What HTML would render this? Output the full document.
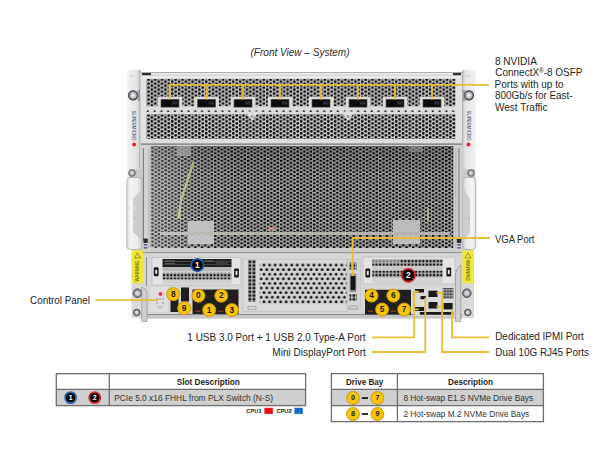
<!DOCTYPE html>
<html><head><meta charset="utf-8"><style>
html,body{margin:0;padding:0;background:#fff;width:600px;height:450px;overflow:hidden}
svg{display:block}
text{font-family:"Liberation Sans",sans-serif}
</style></head><body>
<svg width="600" height="450" viewBox="0 0 600 450">
<defs>
  <pattern id="meshT" patternUnits="userSpaceOnUse" x="146.8" y="78.5" width="6.786" height="3.97">
    <rect width="6.786" height="3.97" fill="#d6d6d6"/>
    <circle cx="1.7" cy="1.3" r="1.42" fill="#0a0a0a"/>
    <circle cx="5.093" cy="3.27" r="1.42" fill="#0a0a0a"/>
    <circle cx="5.093" cy="-0.7" r="1.42" fill="#0a0a0a"/>
  </pattern>
  <pattern id="sepRow" patternUnits="userSpaceOnUse" x="146.1" y="108" width="6.786" height="5">
    <ellipse cx="1.7" cy="3.2" rx="1.15" ry="0.85" fill="#2a2a2a"/>
  </pattern>
  <pattern id="meshM" patternUnits="userSpaceOnUse" x="150.85" y="146.8" width="6.6" height="3.75">
    <path d="M0 0H6.6V3.75H0Z M0.230 0.938a1.42 1.42 0 1 0 2.840 0a1.42 1.42 0 1 0 -2.840 0z M3.530 2.812a1.42 1.42 0 1 0 2.840 0a1.42 1.42 0 1 0 -2.840 0z" fill="#b8b8b8" fill-rule="evenodd"/>
  </pattern>
  <pattern id="meshB" patternUnits="userSpaceOnUse" x="261.2" y="262.7" width="5.55" height="9.2">
    <rect width="5.55" height="9.2" fill="#d2d2d2"/>
    <circle cx="2.8" cy="2.3" r="1.45" fill="#151515"/>
    <circle cx="0" cy="6.9" r="1.45" fill="#151515"/>
    <circle cx="5.55" cy="6.9" r="1.45" fill="#151515"/>
  </pattern>
  <pattern id="grid" patternUnits="userSpaceOnUse" x="0" y="0" width="2.9" height="2.9">
    <rect width="2.9" height="2.9" fill="#bcbcbc"/>
    <rect x="0.4" y="0.4" width="1.9" height="1.9" fill="#1e1e1e"/>
  </pattern>
  <pattern id="grid2" patternUnits="userSpaceOnUse" x="248" y="260" width="4" height="3.75">
    <rect width="4" height="3.75" fill="#c4c4c4"/>
    <rect x="0.5" y="0.5" width="2.8" height="2.6" fill="#1a1a1a"/>
  </pattern>
  <pattern id="pcie" patternUnits="userSpaceOnUse" x="0.3" y="0.4" width="3.6" height="3.5">
    <rect width="3.6" height="3.5" fill="#bababa"/>
    <rect x="0.65" y="0.6" width="2.3" height="2.3" fill="#151515"/>
  </pattern>
  <linearGradient id="earL" x1="0" x2="1" y1="0" y2="0">
    <stop offset="0" stop-color="#f2f2f2"/><stop offset="0.7" stop-color="#e4e4e4"/><stop offset="1" stop-color="#c9c9c9"/>
  </linearGradient>
  <linearGradient id="earR" x1="0" x2="1" y1="0" y2="0">
    <stop offset="0" stop-color="#cfcfcf"/><stop offset="0.3" stop-color="#e6e6e6"/><stop offset="1" stop-color="#f0f0f0"/>
  </linearGradient>
  <linearGradient id="meshShadeT" x1="0" x2="0" y1="0" y2="1">
    <stop offset="0" stop-color="#000" stop-opacity="0.22"/><stop offset="0.3" stop-color="#000" stop-opacity="0.05"/><stop offset="1" stop-color="#000" stop-opacity="0"/>
  </linearGradient>
  <linearGradient id="meshShadeL" x1="0" x2="1" y1="0" y2="0">
    <stop offset="0" stop-color="#fff" stop-opacity="0.25"/><stop offset="0.15" stop-color="#fff" stop-opacity="0.08"/><stop offset="0.3" stop-color="#fff" stop-opacity="0"/>
  </linearGradient>
  <linearGradient id="hdlL" x1="0" x2="1" y1="0" y2="0">
    <stop offset="0" stop-color="#dcdcdc"/><stop offset="0.25" stop-color="#f4f4f4"/><stop offset="0.7" stop-color="#ececec"/><stop offset="1" stop-color="#cfcfcf"/>
  </linearGradient>
  <linearGradient id="hdlR" x1="0" x2="1" y1="0" y2="0">
    <stop offset="0" stop-color="#cfcfcf"/><stop offset="0.3" stop-color="#ececec"/><stop offset="0.75" stop-color="#f4f4f4"/><stop offset="1" stop-color="#dcdcdc"/>
  </linearGradient>
  <radialGradient id="screw" cx="0.5" cy="0.5" r="0.5">
    <stop offset="0" stop-color="#e9e9e9"/><stop offset="0.55" stop-color="#b9b9c2"/><stop offset="0.8" stop-color="#7d7f88"/><stop offset="1" stop-color="#a9a9a9"/>
  </radialGradient>
</defs>

<text x="250.5" y="56.3" font-size="10.0" font-weight="normal" font-style="italic" fill="#2a2a2a" text-anchor="start" textLength="98.99" lengthAdjust="spacingAndGlyphs">(Front View – System)</text>
<rect x="127.3" y="70" width="13" height="110" fill="url(#earL)"/>
<rect x="131.5" y="249" width="13" height="69" fill="#d9d9d9"/>
<rect x="462.5" y="70" width="13" height="110" fill="url(#earR)"/>
<rect x="461" y="249" width="13" height="69" fill="#d9d9d9"/>
<rect x="139.6" y="70" width="0.8" height="108" fill="#9a9a9a"/>
<rect x="462.3" y="70" width="0.8" height="108" fill="#9a9a9a"/>
<circle cx="133.1" cy="95.3" r="5.1" fill="url(#screw)"/>
<circle cx="133.1" cy="95.3" r="4.5" fill="none" stroke="#4c4d55" stroke-width="1.3"/>
<circle cx="133.1" cy="95.3" r="1.3" fill="#f4f4f4"/>
<circle cx="468.9" cy="95.3" r="5.1" fill="url(#screw)"/>
<circle cx="468.9" cy="95.3" r="4.5" fill="none" stroke="#4c4d55" stroke-width="1.3"/>
<circle cx="468.9" cy="95.3" r="1.3" fill="#f4f4f4"/>
<rect x="137.6" y="90" width="2.4" height="11" fill="#7a7a7a" opacity="0.6"/>
<rect x="463" y="90" width="2.4" height="11" fill="#7a7a7a" opacity="0.6"/>
<path d="M130.3 77 L131.5 75 L132.7 77" fill="none" stroke="#aaa" stroke-width="0.6"/>
<path d="M467.3 77 L468.5 75 L469.7 77" fill="none" stroke="#aaa" stroke-width="0.6"/>
<text x="0" y="0" font-size="5.6" fill="#3d4275" font-family="Liberation Serif" textLength="30" lengthAdjust="spacingAndGlyphs" transform="translate(132.1 110.5) rotate(90)">SUPERMICRO</text>
<circle cx="134.1" cy="144.5" r="1.9" fill="#e0222a"/>
<text x="0" y="0" font-size="5.6" fill="#3d4275" font-family="Liberation Serif" textLength="30" lengthAdjust="spacingAndGlyphs" transform="translate(466.5 110.5) rotate(90)">SUPERMICRO</text>
<circle cx="468.5" cy="144.5" r="1.9" fill="#e0222a"/>
<rect x="141" y="73" width="321" height="70" fill="#e2e2e2"/>
<rect x="141" y="72.2" width="321" height="0.9" fill="#9a9a9a"/>
<rect x="142" y="73.1" width="318" height="5.2" fill="#ebebeb"/>
<rect x="142" y="74.8" width="318" height="0.7" fill="#c4c4c4"/>
<rect x="142" y="73" width="9" height="2.2" fill="#333"/>
<rect x="453" y="73" width="8" height="2.2" fill="#333"/>
<rect x="146.3" y="78.9" width="309.5" height="27.6" fill="url(#meshT)"/>
<rect x="146.3" y="106.5" width="309.5" height="7.8" fill="#dcdcdc"/>
<rect x="146.3" y="108" width="309.5" height="5" fill="url(#sepRow)"/>
<rect x="146.3" y="114.3" width="309.5" height="24.5" fill="url(#meshT)"/>
<rect x="141" y="139" width="321" height="4.6" fill="#dedede"/>
<rect x="141" y="143.5" width="321" height="1.2" fill="#5e5e5e"/>
<path d="M245 111.5 L259 111.5 L252 121 Z" fill="#dedede"/>
<circle cx="252" cy="116.5" r="1.6" fill="#999"/>
<path d="M341 111.5 L355 111.5 L348 121 Z" fill="#dedede"/>
<circle cx="348" cy="116.5" r="1.6" fill="#999"/>
<rect x="157.7" y="96.8" width="24.6" height="11.4" rx="1" fill="#dadada"/>
<rect x="160.7" y="99.1" width="18.6" height="8.4" fill="#4a4a4a"/>
<rect x="161.4" y="99.8" width="17.2" height="7.0" fill="#0c0c0c"/>
<rect x="172" y="101.5" width="5.5" height="3" fill="#2e2e2e"/>
<rect x="194.2" y="96.8" width="24.6" height="11.4" rx="1" fill="#dadada"/>
<rect x="197.2" y="99.1" width="18.6" height="8.4" fill="#4a4a4a"/>
<rect x="197.9" y="99.8" width="17.2" height="7.0" fill="#0c0c0c"/>
<rect x="208.5" y="101.5" width="5.5" height="3" fill="#2e2e2e"/>
<rect x="230.7" y="96.8" width="24.6" height="11.4" rx="1" fill="#dadada"/>
<rect x="233.7" y="99.1" width="18.6" height="8.4" fill="#4a4a4a"/>
<rect x="234.4" y="99.8" width="17.2" height="7.0" fill="#0c0c0c"/>
<rect x="245" y="101.5" width="5.5" height="3" fill="#2e2e2e"/>
<rect x="267.7" y="96.8" width="24.6" height="11.4" rx="1" fill="#dadada"/>
<rect x="270.7" y="99.1" width="18.6" height="8.4" fill="#4a4a4a"/>
<rect x="271.4" y="99.8" width="17.2" height="7.0" fill="#0c0c0c"/>
<rect x="282" y="101.5" width="5.5" height="3" fill="#2e2e2e"/>
<rect x="308.7" y="96.8" width="24.6" height="11.4" rx="1" fill="#dadada"/>
<rect x="311.7" y="99.1" width="18.6" height="8.4" fill="#4a4a4a"/>
<rect x="312.4" y="99.8" width="17.2" height="7.0" fill="#0c0c0c"/>
<rect x="323" y="101.5" width="5.5" height="3" fill="#2e2e2e"/>
<rect x="345.7" y="96.8" width="24.6" height="11.4" rx="1" fill="#dadada"/>
<rect x="348.7" y="99.1" width="18.6" height="8.4" fill="#4a4a4a"/>
<rect x="349.4" y="99.8" width="17.2" height="7.0" fill="#0c0c0c"/>
<rect x="360" y="101.5" width="5.5" height="3" fill="#2e2e2e"/>
<rect x="382.7" y="96.8" width="24.6" height="11.4" rx="1" fill="#dadada"/>
<rect x="385.7" y="99.1" width="18.6" height="8.4" fill="#4a4a4a"/>
<rect x="386.4" y="99.8" width="17.2" height="7.0" fill="#0c0c0c"/>
<rect x="397" y="101.5" width="5.5" height="3" fill="#2e2e2e"/>
<rect x="419.7" y="96.8" width="24.6" height="11.4" rx="1" fill="#dadada"/>
<rect x="422.7" y="99.1" width="18.6" height="8.4" fill="#4a4a4a"/>
<rect x="423.4" y="99.8" width="17.2" height="7.0" fill="#0c0c0c"/>
<rect x="434" y="101.5" width="5.5" height="3" fill="#2e2e2e"/>
<rect x="141" y="145" width="321" height="108" fill="#d0d0d0"/>
<rect x="150.6" y="146.2" width="302.6" height="101.8" fill="#070707"/>
<rect x="177" y="146" width="14" height="10" fill="#8a8a8a"/>
<rect x="409" y="146" width="14" height="6" fill="#707070"/>
<rect x="268" y="227" width="8" height="4" fill="#a05040"/>
<rect x="188" y="221" width="26" height="23" fill="#c4c4c4"/>
<rect x="393" y="220" width="27" height="24" fill="#c4c4c4"/>
<rect x="160" y="232" width="290" height="3" fill="#b8ada2"/>
<path d="M193.5 162 L181 200 L178.5 219" stroke="#b9c83a" stroke-width="2.2" fill="none"/>
<path d="M428 208 L428 221" stroke="#b9c83a" stroke-width="1.8"/>
<rect x="150.6" y="146.2" width="302.6" height="101.8" fill="url(#meshM)"/>
<rect x="150.6" y="146.2" width="302.6" height="101.8" fill="url(#meshShadeT)"/>
<rect x="150.6" y="146.2" width="302.6" height="101.8" fill="url(#meshShadeL)"/>
<rect x="141" y="248" width="321" height="4.5" fill="#cdcdcd"/>
<rect x="141" y="252" width="321" height="66.5" fill="#d6d6d6"/>
<rect x="141" y="252" width="321" height="1.2" fill="#9a9a9a"/>
<rect x="141" y="314" width="321" height="1.3" fill="#8a8a8a"/>
<rect x="141" y="315.3" width="321" height="3.2" fill="#c6c6c6"/>
<rect x="152" y="257.5" width="89" height="27.5" fill="#e3e3e3" stroke="#b5b5b5" stroke-width="0.6"/>
<rect x="162.5" y="259" width="69" height="8" fill="#1d1d1d"/>
<rect x="163" y="261" width="68" height="0.8" fill="#555"/>
<rect x="163" y="264.2" width="68" height="0.8" fill="#4a4a4a"/>
<rect x="216" y="260.5" width="12" height="5" fill="#3a3a3a"/>
<rect x="165" y="260.5" width="10" height="1" fill="#6a6a6a"/>
<rect x="165" y="263" width="10" height="1" fill="#5a5a5a"/>
<rect x="205" y="260.5" width="8" height="1" fill="#666"/>
<rect x="162.5" y="268.6" width="69" height="0.8" fill="#e8e8e8"/>
<rect x="162.5" y="267" width="69" height="4.5" fill="#b9b9b9"/>
<rect x="162.5" y="272.7" width="69" height="7" fill="url(#pcie)"/>
<rect x="162.5" y="279.7" width="69" height="4" fill="#d0d0d0"/>
<rect x="363" y="257" width="92" height="27" fill="#e3e3e3" stroke="#b5b5b5" stroke-width="0.6"/>
<rect x="372.3" y="259.3" width="70.5" height="7" fill="url(#pcie)"/>
<rect x="372.3" y="266.3" width="70.5" height="4" fill="#c8c8c8"/>
<rect x="372.3" y="270.5" width="70.5" height="7" fill="url(#pcie)"/>
<rect x="372.3" y="277.5" width="70.5" height="6" fill="#d2d2d2"/>
<rect x="372.3" y="259.3" width="28" height="3.4" fill="#bdbdbd" opacity="0.6"/>
<rect x="153.79999999999998" y="267.3" width="4.8" height="9" rx="1" fill="#1a1a1a"/>
<rect x="155.29999999999998" y="269.8" width="1.8" height="4" fill="#eee"/>
<rect x="234.1" y="268.5" width="4.8" height="9" rx="1" fill="#1a1a1a"/>
<rect x="235.6" y="271" width="1.8" height="4" fill="#eee"/>
<rect x="365.40000000000003" y="268.5" width="4.8" height="9" rx="1" fill="#1a1a1a"/>
<rect x="366.90000000000003" y="271" width="1.8" height="4" fill="#eee"/>
<rect x="446.40000000000003" y="267.5" width="4.8" height="9" rx="1" fill="#1a1a1a"/>
<rect x="447.90000000000003" y="270" width="1.8" height="4" fill="#eee"/>
<rect x="243" y="259.5" width="104" height="52" fill="#dadada" stroke="#bdbdbd" stroke-width="0.6"/>
<rect x="248" y="260" width="8" height="42" fill="url(#grid2)"/>
<rect x="259.5" y="262.5" width="87" height="42" fill="url(#meshB)"/>
<rect x="248" y="306.5" width="8" height="3" fill="none" stroke="#999" stroke-width="0.7"/>
<rect x="347.5" y="259.5" width="13" height="50" fill="#d4d4d4" stroke="#b8b8b8" stroke-width="0.5"/>
<rect x="349.5" y="262.5" width="7.5" height="7" fill="url(#grid2)"/>
<rect x="349.5" y="294" width="7.5" height="7" fill="url(#grid2)"/>
<rect x="349.6" y="273.5" width="6.8" height="18.5" rx="1" fill="#8c8c8c"/>
<rect x="350.6" y="276" width="4.8" height="14" rx="1" fill="#161616"/>
<rect x="349.5" y="306" width="8" height="3" fill="none" stroke="#999" stroke-width="0.7"/>
<rect x="146.2" y="257" width="0.8" height="29" fill="#8a8a8a"/>
<rect x="150" y="287" width="18" height="25" fill="#dedede"/>
<circle cx="160.5" cy="294" r="3" fill="#f2d0d6"/>
<circle cx="160.5" cy="294" r="1.9" fill="#e03a4c"/>
<circle cx="157" cy="299" r="0.7" fill="#777"/>
<circle cx="160" cy="299" r="0.7" fill="#777"/>
<circle cx="163" cy="299" r="0.7" fill="#777"/>
<circle cx="157" cy="303" r="0.7" fill="#777"/>
<circle cx="163" cy="303" r="0.7" fill="#777"/>
<rect x="157" y="306" width="6" height="2.5" rx="1" fill="#b8d0d0"/>
<rect x="170.5" y="299" width="8" height="13" fill="#1e1e1e"/>
<rect x="181" y="287.5" width="8" height="14" fill="#1e1e1e"/>
<rect x="192.5" y="289.5" width="46" height="24.5" fill="#221f1f"/>
<rect x="365" y="289.8" width="46" height="24.7" fill="#221f1f"/>
<rect x="195.5" y="310.6" width="5" height="1.3" fill="#8a4020"/>
<rect x="218.5" y="310.6" width="5" height="1.3" fill="#8a4020"/>
<rect x="368" y="310.6" width="5" height="1.3" fill="#8a4020"/>
<rect x="391" y="310.6" width="5" height="1.3" fill="#8a4020"/>
<rect x="413" y="287" width="43" height="29" fill="#d9d9d9"/>
<rect x="415" y="289" width="9" height="3.5" fill="#1a1a1a"/>
<rect x="415" y="307" width="9" height="4" fill="#1a1a1a"/>
<rect x="420.5" y="296" width="5.3" height="3.2" fill="#1a1a1a"/>
<rect x="428.5" y="290.7" width="9" height="6.3" fill="#1a1a1a"/>
<rect x="428.5" y="302" width="9" height="6.5" fill="#1a1a1a"/>
<rect x="443.6" y="303" width="9" height="6.4" fill="#1a1a1a"/>
<rect x="442.7" y="288" width="10.7" height="10.7" fill="url(#grid)"/>
<rect x="419.6" y="312" width="33.8" height="2.7" rx="1.3" fill="#1a1a1a"/>
<rect x="140" y="145" width="10.5" height="107" fill="#d2d2d2"/>
<rect x="142.9" y="148" width="0.9" height="92" fill="#6a6a6a"/>
<rect x="148.6" y="148" width="0.6" height="100" fill="#a0a0a0"/>
<rect x="143.3" y="238.5" width="4.5" height="4.5" rx="1" fill="#2a2a30"/>
<rect x="143.8" y="244" width="3.5" height="1.6" fill="#5a6090"/>
<rect x="143.8" y="247" width="3.5" height="1.6" fill="#5a6090"/>
<rect x="454.5" y="145" width="9.5" height="107" fill="#d0d0d0"/>
<rect x="458.5" y="148" width="0.9" height="92" fill="#6a6a6a"/>
<rect x="455.6" y="148" width="0.6" height="100" fill="#a0a0a0"/>
<rect x="456.8" y="238.5" width="4.5" height="4.5" rx="1" fill="#2a2a30"/>
<rect x="457.3" y="244" width="3.5" height="1.6" fill="#5a6090"/>
<rect x="457.3" y="247" width="3.5" height="1.6" fill="#5a6090"/>
<path d="M129 169 L142 169 L142 179 L129 179 Z" fill="#c9c9c9"/>
<rect x="126.8" y="177.5" width="15.2" height="72" rx="3.5" fill="url(#hdlL)" stroke="#a8a8a8" stroke-width="0.8"/>
<path d="M141.5 189 L133 199 L133 232 L141.5 240 Z" fill="#cdcdcd"/>
<circle cx="132" cy="173" r="3.5" fill="url(#screw)" stroke="#6a6a6a" stroke-width="0.7"/>
<circle cx="135.5" cy="208" r="0.7" fill="#fff"/>
<circle cx="135" cy="218" r="0.6" fill="#888"/>
<path d="M461 169 L475 169 L475 179 L461 179 Z" fill="#c9c9c9"/>
<rect x="462.8" y="177.5" width="13" height="72" rx="3.5" fill="url(#hdlR)" stroke="#a8a8a8" stroke-width="0.8"/>
<path d="M464 189 L470 199 L470 232 L464 240 Z" fill="#cdcdcd"/>
<circle cx="471" cy="173" r="3.5" fill="url(#screw)" stroke="#6a6a6a" stroke-width="0.7"/>
<circle cx="466.5" cy="208" r="0.7" fill="#fff"/>
<circle cx="469" cy="218" r="0.6" fill="#888"/>
<rect x="131.8" y="250.4" width="11.3" height="33" fill="#eee63a"/>
<text x="0" y="0" font-size="4.6" font-weight="bold" fill="#7d7414" textLength="21" lengthAdjust="spacingAndGlyphs" transform="translate(139.3 281.5) rotate(-90)">WARNING</text>
<path d="M134.5 258 L140.5 258 L137.5 252.8 Z" fill="none" stroke="#7d7414" stroke-width="0.7"/>
<rect x="462.4" y="250.4" width="11" height="33" fill="#eee63a"/>
<text x="0" y="0" font-size="4.6" font-weight="bold" fill="#7d7414" textLength="21" lengthAdjust="spacingAndGlyphs" transform="translate(466.3 260) rotate(90)">WARNING</text>
<path d="M465 258 L471 258 L468 252.8 Z" fill="none" stroke="#7d7414" stroke-width="0.7"/>
<circle cx="137.5" cy="293.2" r="4.3" fill="url(#screw)" stroke="#4a4a4a" stroke-width="1"/>
<circle cx="136.7" cy="312.5" r="3.3" fill="url(#screw)" stroke="#4a4a4a" stroke-width="1"/>
<circle cx="466.8" cy="293.2" r="4.3" fill="url(#screw)" stroke="#4a4a4a" stroke-width="1"/>
<circle cx="467.8" cy="312.5" r="3.3" fill="url(#screw)" stroke="#4a4a4a" stroke-width="1"/>
<path d="M141.5 287.5 Q147 288 147 294 L147 321.5 L141.8 321.5 L141.8 294 Z" fill="#cfcfcf" stroke="#8a8a8a" stroke-width="0.6"/>
<path d="M461 265 Q455.5 268 455.5 276 L455.5 321.5 L460.8 321.5 L460.8 276 Z" fill="#cfcfcf" stroke="#8a8a8a" stroke-width="0.6"/>
<path d="M169.5 99.5 L169.5 84.8 L489.2 84.8" fill="none" stroke="#e4bf36" stroke-width="1.8" stroke-linejoin="miter"/>
<path d="M206.5 99.5 L206.5 84.8" fill="none" stroke="#e4bf36" stroke-width="1.8" stroke-linejoin="miter"/>
<path d="M243 99.5 L243 84.8" fill="none" stroke="#e4bf36" stroke-width="1.8" stroke-linejoin="miter"/>
<path d="M280 99.5 L280 84.8" fill="none" stroke="#e4bf36" stroke-width="1.8" stroke-linejoin="miter"/>
<path d="M321 99.5 L321 84.8" fill="none" stroke="#e4bf36" stroke-width="1.8" stroke-linejoin="miter"/>
<path d="M358 99.5 L358 84.8" fill="none" stroke="#e4bf36" stroke-width="1.8" stroke-linejoin="miter"/>
<path d="M395 99.5 L395 84.8" fill="none" stroke="#e4bf36" stroke-width="1.8" stroke-linejoin="miter"/>
<path d="M432 99.5 L432 84.8" fill="none" stroke="#e4bf36" stroke-width="1.8" stroke-linejoin="miter"/>
<path d="M352.7 276 L352.7 238 L490 238" fill="none" stroke="#e4bf36" stroke-width="1.8" stroke-linejoin="miter"/>
<rect x="146.2" y="257" width="0.8" height="29" fill="#8a8a8a"/>
<path d="M95.3 300.2 L158 300.2" fill="none" stroke="#e4bf36" stroke-width="1.8" stroke-linejoin="miter"/>
<path d="M418.7 291.6 L414.2 291.6 L414.2 337.3 L372 337.3" fill="none" stroke="#e4bf36" stroke-width="1.8" stroke-linejoin="miter"/>
<path d="M418.7 309.4 L414.2 309.4" fill="none" stroke="#e4bf36" stroke-width="1.8" stroke-linejoin="miter"/>
<path d="M425.3 297.8 L425.3 352 L372 352" fill="none" stroke="#e4bf36" stroke-width="1.8" stroke-linejoin="miter"/>
<path d="M436.5 292.8 L442.2 292.8 L442.2 352 L489 352" fill="none" stroke="#e4bf36" stroke-width="1.8" stroke-linejoin="miter"/>
<path d="M436.5 306.7 L442.2 306.7" fill="none" stroke="#e4bf36" stroke-width="1.8" stroke-linejoin="miter"/>
<path d="M452 309.4 L452 337.3 L489 337.3" fill="none" stroke="#e4bf36" stroke-width="1.8" stroke-linejoin="miter"/>
<circle cx="197.4" cy="265.1" r="7.1" fill="#1f62b0"/>
<circle cx="197.4" cy="265.1" r="5.3999999999999995" fill="#050505"/>
<text x="197.4" y="268.05" font-size="8.2" font-weight="bold" fill="#fff" text-anchor="middle">1</text>
<circle cx="408.4" cy="275.3" r="7.4" fill="#d21e26"/>
<circle cx="408.4" cy="275.3" r="5.7" fill="#050505"/>
<text x="408.4" y="278.32" font-size="8.4" font-weight="bold" fill="#fff" text-anchor="middle">2</text>
<circle cx="173.3" cy="294.2" r="7.0" fill="#b88a00" opacity="0.55"/>
<circle cx="173.3" cy="294.2" r="6.4" fill="#f6c40c" stroke="#d49b00" stroke-width="0.8"/>
<text x="173.3" y="296.97" font-size="8.4" font-weight="bold" fill="#1e1800" text-anchor="middle">8</text>
<circle cx="184.2" cy="308.3" r="7.0" fill="#b88a00" opacity="0.55"/>
<circle cx="184.2" cy="308.3" r="6.4" fill="#f6c40c" stroke="#d49b00" stroke-width="0.8"/>
<text x="184.2" y="311.07" font-size="8.4" font-weight="bold" fill="#1e1800" text-anchor="middle">9</text>
<circle cx="198.4" cy="295.7" r="7.0" fill="#b88a00" opacity="0.55"/>
<circle cx="198.4" cy="295.7" r="6.4" fill="#f6c40c" stroke="#d49b00" stroke-width="0.8"/>
<text x="198.4" y="298.47" font-size="8.4" font-weight="bold" fill="#1e1800" text-anchor="middle">0</text>
<circle cx="221.3" cy="295.7" r="7.0" fill="#b88a00" opacity="0.55"/>
<circle cx="221.3" cy="295.7" r="6.4" fill="#f6c40c" stroke="#d49b00" stroke-width="0.8"/>
<text x="221.3" y="298.47" font-size="8.4" font-weight="bold" fill="#1e1800" text-anchor="middle">2</text>
<circle cx="209.2" cy="310.1" r="7.0" fill="#b88a00" opacity="0.55"/>
<circle cx="209.2" cy="310.1" r="6.4" fill="#f6c40c" stroke="#d49b00" stroke-width="0.8"/>
<text x="209.2" y="312.87" font-size="8.4" font-weight="bold" fill="#1e1800" text-anchor="middle">1</text>
<circle cx="231.9" cy="310.1" r="7.0" fill="#b88a00" opacity="0.55"/>
<circle cx="231.9" cy="310.1" r="6.4" fill="#f6c40c" stroke="#d49b00" stroke-width="0.8"/>
<text x="231.9" y="312.87" font-size="8.4" font-weight="bold" fill="#1e1800" text-anchor="middle">3</text>
<circle cx="371.5" cy="295.6" r="7.0" fill="#b88a00" opacity="0.55"/>
<circle cx="371.5" cy="295.6" r="6.4" fill="#f6c40c" stroke="#d49b00" stroke-width="0.8"/>
<text x="371.5" y="298.37" font-size="8.4" font-weight="bold" fill="#1e1800" text-anchor="middle">4</text>
<circle cx="393.3" cy="295.6" r="7.0" fill="#b88a00" opacity="0.55"/>
<circle cx="393.3" cy="295.6" r="6.4" fill="#f6c40c" stroke="#d49b00" stroke-width="0.8"/>
<text x="393.3" y="298.37" font-size="8.4" font-weight="bold" fill="#1e1800" text-anchor="middle">6</text>
<circle cx="382.1" cy="309.5" r="7.0" fill="#b88a00" opacity="0.55"/>
<circle cx="382.1" cy="309.5" r="6.4" fill="#f6c40c" stroke="#d49b00" stroke-width="0.8"/>
<text x="382.1" y="312.27" font-size="8.4" font-weight="bold" fill="#1e1800" text-anchor="middle">5</text>
<circle cx="404.2" cy="309.5" r="7.0" fill="#b88a00" opacity="0.55"/>
<circle cx="404.2" cy="309.5" r="6.4" fill="#f6c40c" stroke="#d49b00" stroke-width="0.8"/>
<text x="404.2" y="312.27" font-size="8.4" font-weight="bold" fill="#1e1800" text-anchor="middle">7</text>
<text x="494.9" y="64.5" font-size="10.2" font-weight="normal" font-style="normal" fill="#262626" text-anchor="start" textLength="41.97" lengthAdjust="spacingAndGlyphs">8 NVIDIA</text>
<text x="495.3" y="76.3" font-size="10.2" fill="#262626" textLength="87.2" lengthAdjust="spacingAndGlyphs">ConnectX<tspan font-size="6.5" dy="-3.2">®</tspan><tspan dy="3.2">-8 OSFP</tspan></text>
<text x="494.62" y="87.9" font-size="10.2" font-weight="normal" font-style="normal" fill="#262626" text-anchor="start" textLength="68.9" lengthAdjust="spacingAndGlyphs">Ports with up to</text>
<text x="495.0" y="99.4" font-size="10.2" font-weight="normal" font-style="normal" fill="#262626" text-anchor="start" textLength="77.55" lengthAdjust="spacingAndGlyphs">800Gb/s for East-</text>
<text x="495.0" y="111.0" font-size="10.2" font-weight="normal" font-style="normal" fill="#262626" text-anchor="start" textLength="52.5" lengthAdjust="spacingAndGlyphs">West Traffic</text>
<text x="495.0" y="242.9" font-size="10.2" font-weight="normal" font-style="normal" fill="#262626" text-anchor="start" textLength="39.51" lengthAdjust="spacingAndGlyphs">VGA Port</text>
<text x="30.0" y="304.0" font-size="10.2" font-weight="normal" font-style="normal" fill="#262626" text-anchor="start" textLength="60.01" lengthAdjust="spacingAndGlyphs">Control Panel</text>
<text x="187.32" y="341.0" font-size="10.2" font-weight="normal" font-style="normal" fill="#262626" text-anchor="start" textLength="178.26" lengthAdjust="spacingAndGlyphs">1 USB 3.0 Port + 1 USB 2.0 Type-A Port</text>
<text x="272.32" y="355.8" font-size="10.2" font-weight="normal" font-style="normal" fill="#262626" text-anchor="start" textLength="93.51" lengthAdjust="spacingAndGlyphs">Mini DisplayPort Port</text>
<text x="495.23" y="340.4" font-size="10.2" font-weight="normal" font-style="normal" fill="#262626" text-anchor="start" textLength="88.64" lengthAdjust="spacingAndGlyphs">Dedicated IPMI Port</text>
<text x="495.23" y="355.8" font-size="10.2" font-weight="normal" font-style="normal" fill="#262626" text-anchor="start" textLength="93.73" lengthAdjust="spacingAndGlyphs">Dual 10G RJ45 Ports</text>
<rect x="56.3" y="389.4" width="249.3" height="16.2" fill="#cfcfcf"/>
<rect x="56.3" y="373.7" width="249.3" height="31.9" fill="none" stroke="#6e6e6e" stroke-width="1.3"/>
<line x1="56.3" y1="389.4" x2="305.6" y2="389.4" stroke="#6e6e6e" stroke-width="1.3"/>
<line x1="109.3" y1="373.7" x2="109.3" y2="405.6" stroke="#6e6e6e" stroke-width="1.3"/>
<text x="176.7" y="384.7" font-size="8.2" font-weight="bold" font-style="normal" fill="#1e1e1e" text-anchor="start" textLength="63.09" lengthAdjust="spacingAndGlyphs">Slot Description</text>
<text x="114.19" y="400.7" font-size="8.3" font-weight="normal" font-style="normal" fill="#333" text-anchor="start" textLength="158.9" lengthAdjust="spacingAndGlyphs">PCIe 5.0 x16 FHHL from PLX Switch (N-S)</text>
<circle cx="70.6" cy="397.6" r="6.4" fill="#2a68ad"/>
<circle cx="70.6" cy="397.6" r="4.7" fill="#050505"/>
<text x="70.6" y="400.12" font-size="7" font-weight="bold" fill="#fff" text-anchor="middle">1</text>
<circle cx="94.7" cy="397.6" r="6.4" fill="#d42a2a"/>
<circle cx="94.7" cy="397.6" r="4.7" fill="#050505"/>
<text x="94.7" y="400.12" font-size="7" font-weight="bold" fill="#fff" text-anchor="middle">2</text>
<text x="246.3" y="413.3" font-size="6.0" font-weight="bold" font-style="normal" fill="#222" text-anchor="start" textLength="15.31" lengthAdjust="spacingAndGlyphs">CPU1</text>
<rect x="264.4" y="407.8" width="8.4" height="6.1" fill="#ee1111"/>
<text x="276.4" y="413.3" font-size="6.0" font-weight="bold" font-style="normal" fill="#222" text-anchor="start" textLength="15.31" lengthAdjust="spacingAndGlyphs">CPU2</text>
<rect x="294.4" y="407.8" width="8.4" height="6.1" fill="#1670c8"/>
<rect x="331.4" y="389.4" width="212" height="16.2" fill="#cfcfcf"/>
<rect x="331.4" y="373.6" width="212" height="48" fill="none" stroke="#6e6e6e" stroke-width="1.3"/>
<line x1="331.4" y1="389.4" x2="543.4" y2="389.4" stroke="#6e6e6e" stroke-width="1.3"/>
<line x1="331.4" y1="405.6" x2="543.4" y2="405.6" stroke="#6e6e6e" stroke-width="1.3"/>
<line x1="397.4" y1="373.6" x2="397.4" y2="421.6" stroke="#6e6e6e" stroke-width="1.3"/>
<text x="346.0" y="385.0" font-size="8.2" font-weight="bold" font-style="normal" fill="#1e1e1e" text-anchor="start" textLength="37.18" lengthAdjust="spacingAndGlyphs">Drive Bay</text>
<text x="448.0" y="385.0" font-size="8.2" font-weight="bold" font-style="normal" fill="#1e1e1e" text-anchor="start" textLength="45.05" lengthAdjust="spacingAndGlyphs">Description</text>
<text x="403.4" y="400.9" font-size="8.3" font-weight="normal" font-style="normal" fill="#333" text-anchor="start" textLength="129.63" lengthAdjust="spacingAndGlyphs">8 Hot-swap E1.S NVMe Drive Bays</text>
<text x="403.4" y="416.9" font-size="8.3" font-weight="normal" font-style="normal" fill="#333" text-anchor="start" textLength="125.88" lengthAdjust="spacingAndGlyphs">2 Hot-swap M.2 NVMe Drive Bays</text>
<circle cx="353" cy="398" r="6.8999999999999995" fill="#b88a00" opacity="0.55"/>
<circle cx="353" cy="398" r="6.3" fill="#f6c40c" stroke="#d49b00" stroke-width="0.8"/>
<text x="353" y="400.38" font-size="7.2" font-weight="bold" fill="#1e1800" text-anchor="middle">0</text>
<circle cx="377.4" cy="398" r="6.8999999999999995" fill="#b88a00" opacity="0.55"/>
<circle cx="377.4" cy="398" r="6.3" fill="#f6c40c" stroke="#d49b00" stroke-width="0.8"/>
<text x="377.4" y="400.38" font-size="7.2" font-weight="bold" fill="#1e1800" text-anchor="middle">7</text>
<rect x="361.8" y="397.2" width="6.2" height="1.7" fill="#111"/>
<circle cx="353" cy="414" r="6.8999999999999995" fill="#b88a00" opacity="0.55"/>
<circle cx="353" cy="414" r="6.3" fill="#f6c40c" stroke="#d49b00" stroke-width="0.8"/>
<text x="353" y="416.38" font-size="7.2" font-weight="bold" fill="#1e1800" text-anchor="middle">8</text>
<circle cx="377.4" cy="414" r="6.8999999999999995" fill="#b88a00" opacity="0.55"/>
<circle cx="377.4" cy="414" r="6.3" fill="#f6c40c" stroke="#d49b00" stroke-width="0.8"/>
<text x="377.4" y="416.38" font-size="7.2" font-weight="bold" fill="#1e1800" text-anchor="middle">9</text>
<rect x="361.8" y="413.2" width="6.2" height="1.7" fill="#111"/>
</svg>
</body></html>
